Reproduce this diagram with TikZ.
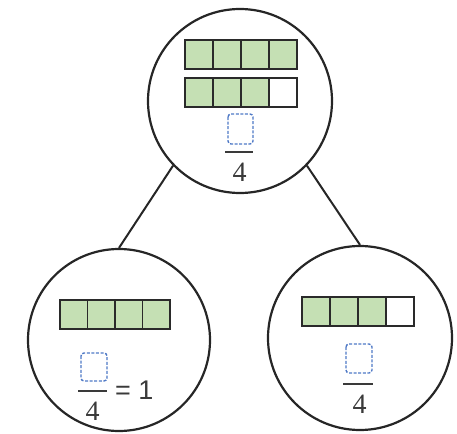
\documentclass[tikz,border=0pt]{standalone}
\usepackage{fontspec}
\setmainfont{Liberation Serif}
\newfontfamily\numsans{Liberation Sans}
\definecolor{barfill}{HTML}{C5E0B4}
\definecolor{barline}{HTML}{2A2A2A}
\definecolor{slotblue}{HTML}{4F79C6}
\definecolor{inkgray}{HTML}{3A3A3A}
\begin{document}
\begin{tikzpicture}[x=1pt,y=-1pt,
  ring/.style={circle,draw=black!85,line width=2.2pt,inner sep=0pt},
  link/.style={draw=black!85,line width=2pt},
  cellfull/.style={fill=barfill,draw=barline,line width=1.7pt},
  cellempty/.style={fill=white,draw=barline,line width=1.7pt},
  slot/.style={draw=slotblue,line width=1.4pt,dash pattern=on 3pt off 1.6pt,rounded corners=3pt},
  fracbar/.style={draw=inkgray,line width=1.8pt},
  digit/.style={font=\fontsize{28}{28}\selectfont,text=inkgray,inner sep=0pt},
  sanslbl/.style={font=\numsans\fontsize{27}{27}\selectfont,text=inkgray,inner sep=0pt}]
\useasboundingbox (0,0) rectangle (457,433);

% the three circles of the tree
\node[ring,minimum size=184pt] (top) at (240,101) {};
\node[ring,minimum size=182pt] (left) at (119,340) {};
\node[ring,minimum size=184pt] (right) at (360,338) {};

% branches
\draw[link] (top.-136) -- (left.north);
\draw[link] (top.-44) -- (right.north);

% top circle: two four-part bars, 4/4 and 3/4
\foreach \i in {0,1,2,3}
  \draw[cellfull] (185+28*\i,40) rectangle ++(28,29);
\foreach \i in {0,1,2}
  \draw[cellfull] (185+28*\i,78) rectangle ++(28,29);
\draw[cellempty] (269,78) rectangle ++(28,29);
\draw[slot] (228,114) rectangle (253,144);
\draw[fracbar] (225,152) -- (253,152);
\node[digit] (topden) at (239.5,172.5) {4};

% left circle: one whole bar, fraction equals 1
\foreach \i in {0,1,2,3}
  \draw[cellfull] (60+27.5*\i,300) rectangle ++(27.5,29);
\draw[slot] (81,353) rectangle (107,381);
\draw[fracbar] (78,391) -- (107,391);
\node[digit] (leftden) at (92.5,411) {4};
\node[sanslbl,anchor=base west] (eqone) at (115,399) {= 1};

% right circle: three of four parts
\foreach \i in {0,1,2}
  \draw[cellfull] (302+28*\i,297) rectangle ++(28,29);
\draw[cellempty] (386,297) rectangle ++(28,29);
\draw[slot] (346,344) rectangle (372,373);
\draw[fracbar] (343,384) -- (373,384);
\node[digit] (rightden) at (359.5,404) {4};
\end{tikzpicture}
\end{document}
